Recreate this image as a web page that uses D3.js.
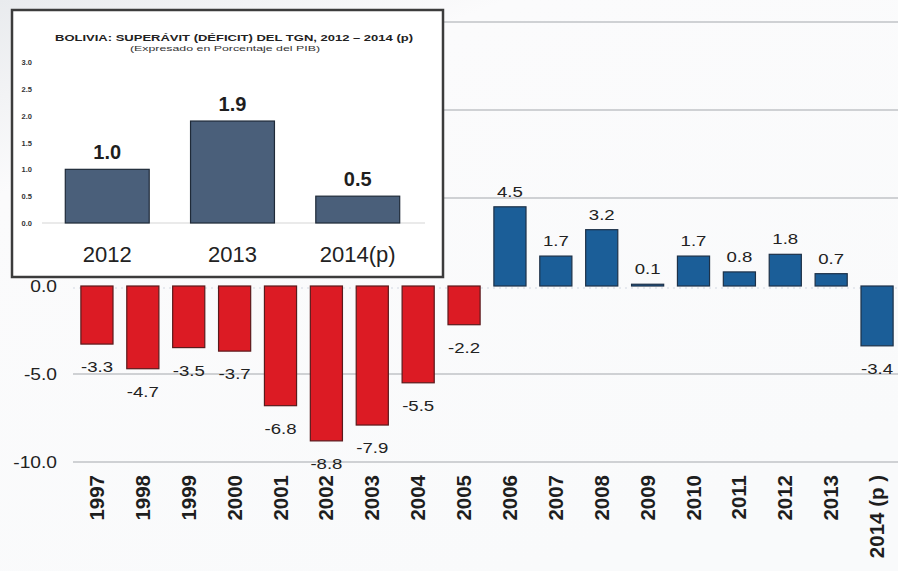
<!DOCTYPE html>
<html>
<head>
<meta charset="utf-8">
<script src="https://cdn.jsdelivr.net/npm/d3@7"></script>
<style>
  html, body { margin: 0; padding: 0; background: #fff; }
  svg { display: block; font-family: "Liberation Sans", Arial, sans-serif; }
</style>
</head>
<body>
<svg width="898" height="571"></svg>
<script>
// main chart data
var years = ["1997", "1998", "1999", "2000", "2001", "2002", "2003", "2004", "2005",
             "2006", "2007", "2008", "2009", "2010", "2011", "2012", "2013", "2014 (p )"];
var balance = [-3.3, -4.7, -3.5, -3.7, -6.8, -8.8, -7.9, -5.5, -2.2,
               4.5, 1.7, 3.2, 0.1, 1.7, 0.8, 1.8, 0.7, -3.4];
var yTicks = [0, -5, -10];
var gridTicks = [15, 10, 5, -5, -10];

// inset data
var insetYears = ["2012", "2013", "2014(p)"];
var insetValues = [1.0, 1.9, 0.5];
var insetTicks = [0, 0.5, 1.0, 1.5, 2.0, 2.5, 3.0];

var svg = d3.select("svg"),
    W = +svg.attr("width"),
    H = +svg.attr("height");

//one decimal, plain hyphen for negatives
var fmt = function(v) { return d3.format(".1f")(v).replace("\u2212", "-"); };

//Background gradient (light grey top-left fading to white)
var defs = svg.append("defs");
var bg = defs.append("linearGradient")
    .attr("id", "bg")
    .attr("x1", "0%").attr("y1", "0%")
    .attr("x2", "60%").attr("y2", "100%");
bg.append("stop").attr("offset", "0%").attr("stop-color", "#e9ebee");
bg.append("stop").attr("offset", "25%").attr("stop-color", "#fbfbfc");
bg.append("stop").attr("offset", "100%").attr("stop-color", "#f9fafb");

svg.append("rect")
    .attr("width", W)
    .attr("height", H)
    .attr("fill", "url(#bg)");

//Scales
var x = d3.scaleBand()
    .domain(years)
    .range([74, 900])
    .paddingInner(0.3)
    .paddingOuter(0.15);

var y = d3.scaleLinear()
    .domain([-10, 15])
    .range([462, 22]);

//Grid lines
svg.append("g")
    .attr("class", "grid")
    .selectAll("line")
    .data(gridTicks)
    .enter()
    .append("line")
    .attr("x1", 73)
    .attr("x2", W)
    .attr("y1", function(d) { return y(d); })
    .attr("y2", function(d) { return y(d); })
    .attr("stroke", "#cfd1d4")
    .attr("stroke-width", 2);

//faint dotted zero line
svg.append("line")
    .attr("x1", 73)
    .attr("x2", W)
    .attr("y1", y(0) + 2)
    .attr("y2", y(0) + 2)
    .attr("stroke", "#dfe3ea")
    .attr("stroke-width", 1.5)
    .attr("stroke-dasharray", "2,4");

//Y axis labels
svg.append("g")
    .selectAll("text")
    .data(yTicks)
    .enter()
    .append("text")
    .attr("transform", function(d) { return "translate(57," + (y(d) + 6) + ") scale(1.2,1)"; })
    .attr("text-anchor", "end")
    .attr("font-size", 16)
    .attr("fill", "#222")
    .text(function(d) { return fmt(d); });

//Bars
var data = years.map(function(d, i) { return {year: d, value: balance[i], i: i}; });

svg.append("g")
    .selectAll("rect")
    .data(data)
    .enter()
    .append("rect")
    .attr("x", function(d) { return x(d.year); })
    .attr("y", function(d) { return y(Math.max(0, d.value)); })
    .attr("width", x.bandwidth())
    .attr("height", function(d) { return Math.abs(y(d.value) - y(0)); })
    .attr("fill", function(d) { return d.i < 9 ? "#dc1b24" : "#1b5e98"; })
    .attr("stroke", function(d) { return d.i < 9 ? "#5a1a1c" : "#1d3148"; })
    .attr("stroke-width", 1.2);

//Value labels
svg.append("g")
    .selectAll("text")
    .data(data)
    .enter()
    .append("text")
    .attr("transform", function(d) {
        var cx = x(d.year) + x.bandwidth() / 2;
        var ty = d.value < 0 ? y(d.value) + 28 : y(d.value) - 10;
        return "translate(" + cx + "," + ty + ") scale(1.2,1)";
    })
    .attr("text-anchor", "middle")
    .attr("font-size", 15.5)
    .attr("fill", "#222")
    .text(function(d) { return fmt(d.value); });

//X axis labels, rotated
svg.append("g")
    .selectAll("text")
    .data(years)
    .enter()
    .append("text")
    .attr("transform", function(d) {
        return "translate(" + (x(d) + x.bandwidth() / 2 + 7) + ",475) rotate(-90)";
    })
    .attr("text-anchor", "end")
    .attr("font-size", 20.5)
    .attr("font-weight", "bold")
    .attr("fill", "#1e1e1e")
    .text(function(d) { return d; });

//---------------- Inset chart ----------------
var inset = svg.append("g").attr("class", "inset");

inset.append("rect")
    .attr("x", 12)
    .attr("y", 10)
    .attr("width", 431)
    .attr("height", 267)
    .attr("fill", "#fff")
    .attr("stroke", "#3c3c3c")
    .attr("stroke-width", 2.5);

inset.append("text")
    .attr("x", 234)
    .attr("y", 41)
    .attr("text-anchor", "middle")
    .attr("font-size", 8.5)
    .attr("font-weight", "bold")
    .attr("fill", "#222")
    .attr("textLength", 358)
    .attr("lengthAdjust", "spacingAndGlyphs")
    .text("BOLIVIA: SUPERÁVIT (DÉFICIT) DEL TGN, 2012 – 2014 (p)");

inset.append("text")
    .attr("x", 225)
    .attr("y", 51)
    .attr("text-anchor", "middle")
    .attr("font-size", 8)
    .attr("fill", "#333")
    .attr("textLength", 190)
    .attr("lengthAdjust", "spacingAndGlyphs")
    .text("(Expresado en Porcentaje del PIB)");

var ix = d3.scaleBand()
    .domain(insetYears)
    .range([44, 421])
    .paddingInner(0.33)
    .paddingOuter(0.17);

var iy = d3.scaleLinear()
    .domain([0, 3])
    .range([223, 62]);

//inset tick labels
inset.append("g")
    .selectAll("text")
    .data(insetTicks)
    .enter()
    .append("text")
    .attr("x", 32)
    .attr("y", function(d) { return iy(d) + 3; })
    .attr("text-anchor", "end")
    .attr("font-size", 7.5)
    .attr("font-weight", "bold")
    .attr("fill", "#333")
    .text(function(d) { return fmt(d); });

//inset baseline
inset.append("line")
    .attr("x1", 42)
    .attr("x2", 425)
    .attr("y1", iy(0))
    .attr("y2", iy(0))
    .attr("stroke", "#d5d5d5")
    .attr("stroke-width", 1);

var idata = insetYears.map(function(d, i) { return {year: d, value: insetValues[i]}; });

inset.append("g")
    .selectAll("rect")
    .data(idata)
    .enter()
    .append("rect")
    .attr("x", function(d) { return ix(d.year); })
    .attr("y", function(d) { return iy(d.value); })
    .attr("width", ix.bandwidth())
    .attr("height", function(d) { return iy(0) - iy(d.value); })
    .attr("fill", "#4a5f7a")
    .attr("stroke", "#1f2a38")
    .attr("stroke-width", 1.2);

inset.append("g")
    .selectAll("text")
    .data(idata)
    .enter()
    .append("text")
    .attr("x", function(d) { return ix(d.year) + ix.bandwidth() / 2; })
    .attr("y", function(d) { return iy(d.value) - 10; })
    .attr("text-anchor", "middle")
    .attr("font-size", 20)
    .attr("font-weight", "bold")
    .attr("fill", "#1e1e1e")
    .text(function(d) { return fmt(d.value); });

inset.append("g")
    .selectAll("text")
    .data(insetYears)
    .enter()
    .append("text")
    .attr("x", function(d) { return ix(d) + ix.bandwidth() / 2; })
    .attr("y", 262)
    .attr("text-anchor", "middle")
    .attr("font-size", 22)
    .attr("fill", "#222")
    .text(function(d) { return d; });
</script>
</body>
</html>
